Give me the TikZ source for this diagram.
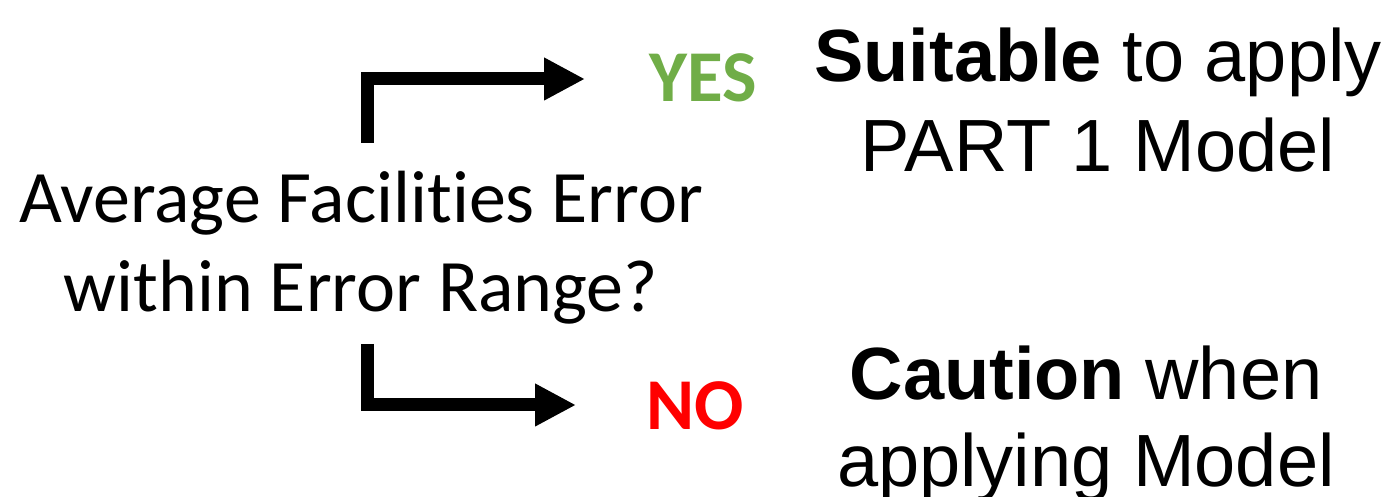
\documentclass[tikz,border=0pt]{standalone}
\usepackage{fontspec}
\setmainfont{Carlito}[Ligatures=NoCommon]
\newfontfamily\arialfont{Liberation Sans}
\usetikzlibrary{arrows.meta}
\definecolor{yesgreen}{HTML}{70AD47}
\definecolor{nored}{HTML}{FF0000}
\begin{document}
\begin{tikzpicture}[x=1pt,y=1pt,
  flow/.style={line width=13pt, line join=miter, line cap=butt,
    -{Triangle[length=41pt,width=40pt]}},
  question/.style={inner sep=0pt, align=center,
    font=\fontsize{74}{89}\selectfont},
  answer/.style={inner sep=0pt, font=\fontsize{73}{80}\selectfont\bfseries},
  outcome/.style={inner sep=0pt, align=center, font=\arialfont\fontsize{74}{90}\selectfont}]
  \useasboundingbox (0,0) rectangle (1392,497);

  % decision text (base anchor sits on the last line)
  \node[question, anchor=base] (q) at (361,185)
    {Average Facilities Error\\within Error Range?};

  % branch labels
  \node[answer, text=yesgreen, anchor=base] (yes) at (703,395) {YES};
  \node[answer, text=nored, anchor=base] (no) at (695,67) {NO};

  % outcomes
  \node[outcome, anchor=base] (ok) at (1098,325)
    {\textbf{Suitable} to apply\\PART 1 Model};
  \node[outcome, anchor=base, font=\arialfont\fontsize{74}{87}\selectfont] (warn) at (1086,10)
    {\textbf{Caution} when\\applying Model};

  % elbow arrows
  \coordinate (qtop) at (367,354);
  \coordinate (qbot) at (367,153);
  \coordinate (tipyes) at (585,418);
  \coordinate (tipno) at (576,92);
  \draw[flow] (qtop) |- (tipyes);
  \draw[flow] (qbot) |- (tipno);
\end{tikzpicture}
\end{document}
